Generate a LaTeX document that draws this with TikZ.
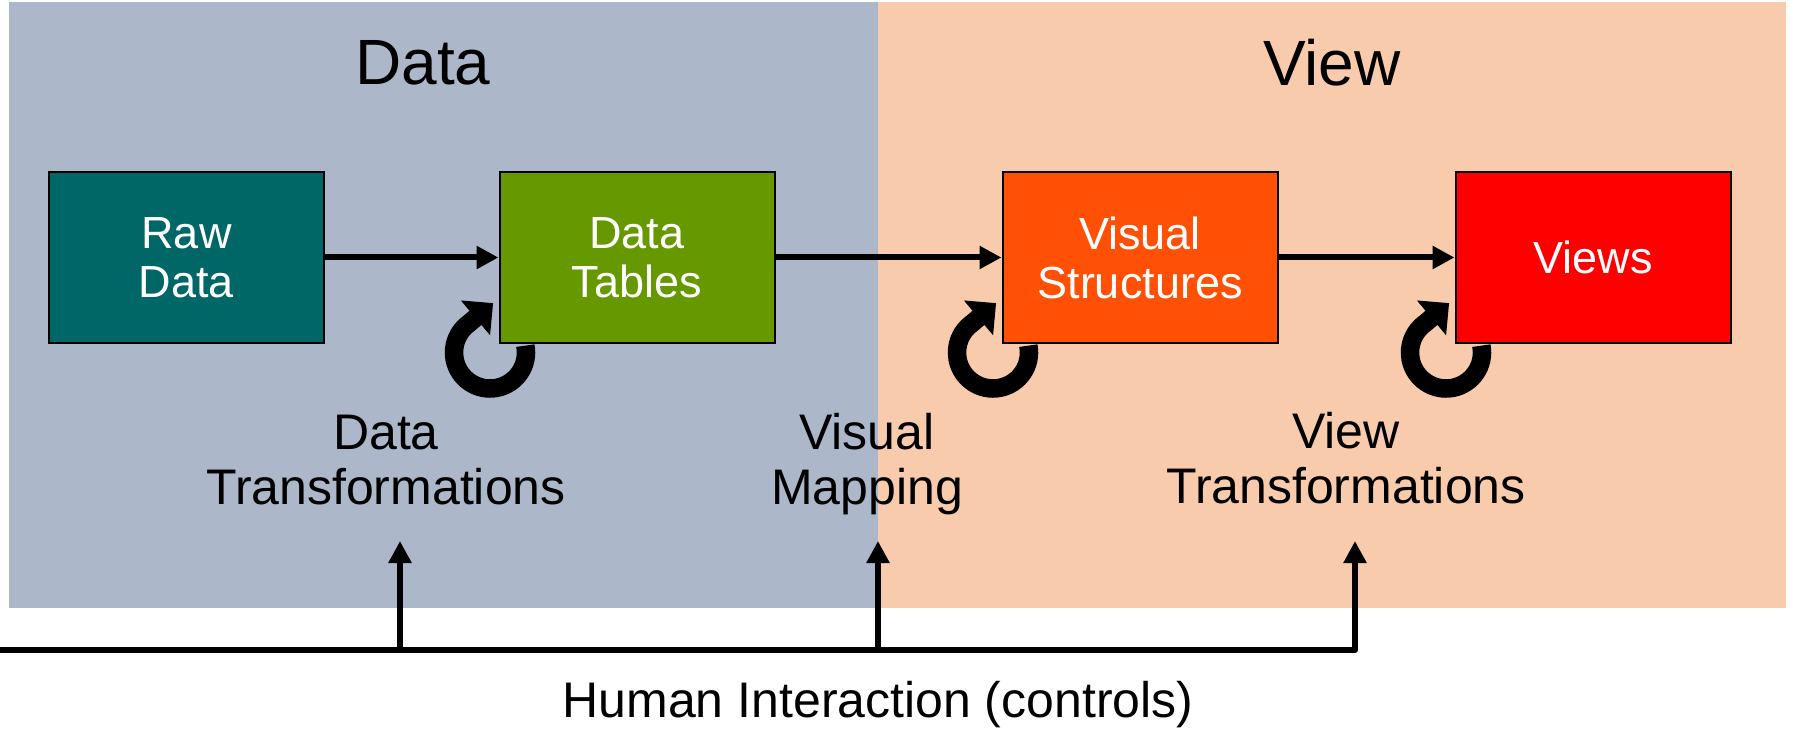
\documentclass[tikz,border=0pt]{standalone}
\usepackage{fontspec}
\setmainfont{Liberation Sans}
\usetikzlibrary{arrows.meta}
\definecolor{datapanel} {rgb}{0.674509804,0.721568627,0.792156863}
\definecolor{viewpanel} {rgb}{0.972549020,0.796078431,0.678431373}
\definecolor{rawdata} {rgb}{0,0.4,0.4}
\definecolor{datatables} {rgb}{0.4,0.6,0}
\definecolor{visstruct} {rgb}{1,0.313725490,0.019607843}
\definecolor{views} {rgb}{1,0,0}

\begin{document}
\begin{tikzpicture}[x=0.5pt,y=-0.5pt,
      box/.style={draw=black,line width=1pt,minimum width=137.5pt,minimum height=85.5pt,
                  text=white,align=center,font=\fontsize{22.5}{24.5}\selectfont},
      stagetext/.style={align=center,font=\fontsize{25}{27.5}\selectfont},
      flow/.style={line width=3pt,-{Triangle[length=11pt,width=11pt]}},
      ctrl/.style={line width=3pt,line join=round,-{Triangle[length=11pt,width=11pt]}},
      selfloop/.style={line width=9.25pt,-{Triangle[length=11.5pt,width=22pt]}}]
                  \useasboundingbox (0,0) rectangle (1793,732);
                  \fill[datapanel] (9,2) rectangle (878,608);
                  \fill[viewpanel] (878,2) rectangle (1786,608);
                  \node[font=\fontsize{32}{38}\selectfont] (datatitle) at (423,63) {Data};
                  \node[font=\fontsize{32}{38}\selectfont] (viewtitle) at (1332,63) {View};
                  % pipeline
                  \node[box,fill=rawdata] (raw) at (186.5,257.5) {Raw\\Data};
                  \node[box,fill=datatables] (tables) at (637,257.5) {Data\\Tables};
                  \node[box,fill=visstruct] (visual) at (1140,257.5) {Visual\\Structures};
                  \node[box,fill=views] (views) at (1593,257.5) {Views};
                  \draw[flow] (raw) -- (tables);
                  \draw[flow] (tables) -- (visual);
                  \draw[flow] (visual) -- (views);
                  \foreach \n in {tables,visual,views}
                        \draw[selfloop] ([shift={(-8.5,8.5)}]\n.south west) ++(-11:36)
                              arc[start angle=-11,end angle=235,radius=36] -- ++(-40:31);
                  % transformations
                  \node[stagetext] (datatrans) at (386,460) {Data\\Transformations};
                  \node[stagetext] (vismap) at (867,464) {Visual\\Mapping};
                  \node[stagetext] (viewtrans) at (1346,458) {View\\Transformations};
                  % human interaction
                  \coordinate (hstart) at (0,650);
                  \coordinate (c1) at (400,541);
                  \coordinate (c2) at (878,541);
                  \coordinate (c3) at (1355,541);
                  \draw[ctrl] (hstart) -- (hstart -| c3) -- (c3);
                  \draw[ctrl] (hstart -| c1) -- (c1);
                  \draw[ctrl] (hstart -| c2) -- (c2);
                  \node[stagetext] (human) at (878,705) {Human Interaction (controls)};
            \end{tikzpicture}
\end{document}
